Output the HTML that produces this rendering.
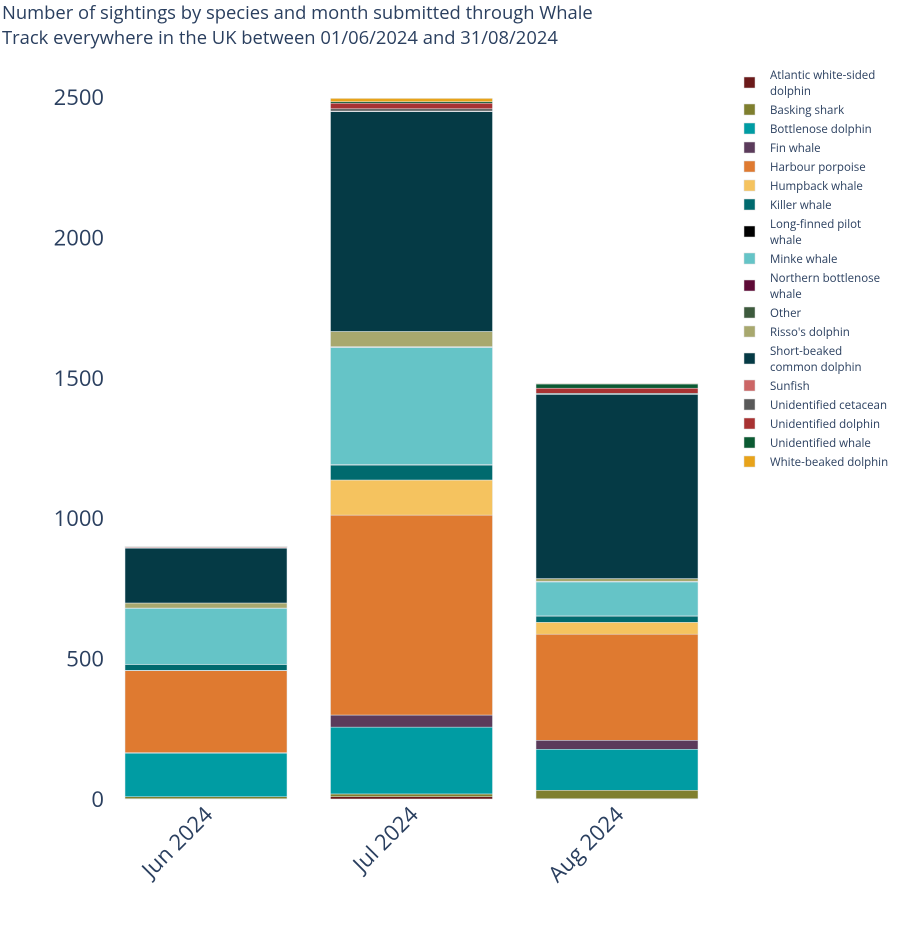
<!DOCTYPE html>
<html><head><meta charset="utf-8"><style>
body{margin:0;background:#fff;}
svg{display:block;font-family:"Open Sans","Liberation Sans",sans-serif;}
</style></head><body>
<svg id="chart" width="911" height="950" viewBox="0 0 911 950">
<text x="2" y="19" font-size="18.4" fill="#2a3f5f">Number of sightings by species and month submitted through Whale</text>
<text x="2" y="44" font-size="18.4" fill="#2a3f5f">Track everywhere in the UK between 01/06/2024 and 31/08/2024</text>
<g id="yaxis"></g>
<g id="bars"></g>
<g id="xaxis"></g>
<g id="legend"></g>
</svg>
<script>
const months = ["Jun 2024","Jul 2024","Aug 2024"];
const species = ["Atlantic white-sided dolphin","Basking shark","Bottlenose dolphin","Fin whale","Harbour porpoise","Humpback whale","Killer whale","Long-finned pilot whale","Minke whale","Northern bottlenose whale","Other","Risso's dolphin","Short-beaked common dolphin","Sunfish","Unidentified cetacean","Unidentified dolphin","Unidentified whale","White-beaked dolphin"];
const legendLabels = [["Atlantic white-sided","dolphin"],["Basking shark"],["Bottlenose dolphin"],["Fin whale"],["Harbour porpoise"],["Humpback whale"],["Killer whale"],["Long-finned pilot"," whale"],["Minke whale"],["Northern bottlenose"," whale"],["Other"],["Risso's dolphin"],["Short-beaked"," common dolphin"],["Sunfish"],["Unidentified cetacean"],["Unidentified dolphin"],["Unidentified whale"],["White-beaked dolphin"]];
const colors = ["#6b1a1a","#7f7f2e","#009ca3","#5b3b5b","#df7a30","#f5c35f","#006a6e","#000000","#65c4c7","#5e0a36","#3d5a3d","#a8a86e","#053a45","#cc6666","#595959","#a83232","#0b5a32","#e8a31a"];
const valJun = [1,7,155,2,292,1,21,0,200,0,1,18,195,3,1,1,1,1];
const valJul = [8,10,238,43,712,125,53,2,417,1,2,54,783,2,8,20,5,12];
const valAug = [1,30,146,32,378,42,22,1,121,0,2,10,656,1,3,18,15,2];
const yTicks = [0,500,1000,1500,2000,2500];

const NS="http://www.w3.org/2000/svg";
function mk(tag,attrs,parent){const e=document.createElementNS(NS,tag);for(const k in attrs)e.setAttribute(k,attrs[k]);parent.appendChild(e);return e;}
const y0=799, yTop=97, vMax=2500;
const yScale=v=>y0-(v/vMax)*(y0-yTop);
const bandStart=125, bandW=205.5, barW=162;
const xScale=i=>bandStart+i*bandW;

const ya=document.getElementById('yaxis');
yTicks.forEach(t=>{
  const tx=mk('text',{x:104,y:yScale(t)+8,'text-anchor':'end','font-size':22,fill:'#2a3f5f'},ya);
  
  
  tx.textContent=t;
});

const series=[valJun,valJul,valAug];
const bg=document.getElementById('bars');
series.forEach((vals,i)=>{
  let cum=0;
  const x=xScale(i);
  vals.forEach((v,s)=>{
    if(v<=0)return;
    const yA=yScale(cum+v), yB=yScale(cum);
    const r=mk('rect',{x:x,y:yA,width:barW,height:Math.max(0,yB-yA),fill:colors[s],stroke:'#e5ecf0','stroke-width':0.5},bg);
    
    
    cum+=v;
  });
});

const xa=document.getElementById('xaxis');
months.forEach((m,i)=>{
  const cx=xScale(i)+barW/2+8;
  const t=mk('text',{x:cx,y:816,'text-anchor':'end','font-size':22,fill:'#2a3f5f',transform:`rotate(-45 ${cx} 816)`},xa);
  
  
  t.textContent=m;
});

const lg=document.getElementById('legend');
let ly=70;
legendLabels.forEach((lines,s)=>{
  const g=mk('g',{},lg);
  
  
  const my=ly+(lines.length-1)*8;
  mk('rect',{x:744,y:my-1,width:11,height:11,fill:colors[s],stroke:'#ddd','stroke-width':0.5},g);
  lines.forEach((ln,k)=>{
    const t=mk('text',{x:770,y:ly+9+k*16,'font-size':11.5,fill:'#2a3f5f','xml:space':'preserve'},g);
    t.textContent=ln;
  });
  ly+= lines.length==1?19:35;
});
</script>
</body></html>
